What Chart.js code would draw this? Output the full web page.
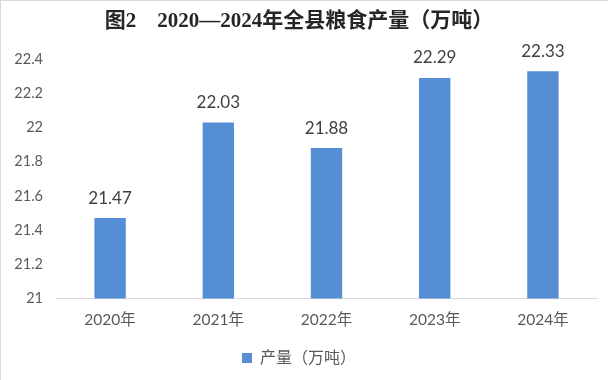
<!DOCTYPE html>
<html>
<head>
<meta charset="utf-8">
<script src="https://cdn.jsdelivr.net/npm/chart.js@4/dist/chart.umd.min.js"></script>
<style>
html,body{margin:0;padding:0;background:#fff;}
#wrap{position:relative;width:608px;height:380px;box-sizing:border-box;border-left:1px solid #d9d9d9;border-top:1px solid #d9d9d9;}
canvas{display:block;}
</style>
</head>
<body>
<div id="wrap"><canvas id="c" width="607" height="379"></canvas></div>
<script>
const categories = ["2020年","2021年","2022年","2023年","2024年"];
const production = [21.47, 22.03, 21.88, 22.29, 22.33];
const seriesName = "产量（万吨）";
const titleText = "图2　2020—2024年全县粮食产量（万吨）";
const yMin = 21, yMax = 22.4, yStep = 0.2;

const labelFont = "'Lato','Noto Sans CJK SC',sans-serif";

const dataLabels = {
  id: 'dataLabels',
  afterDatasetsDraw(chart) {
    const ctx = chart.ctx;
    const meta = chart.getDatasetMeta(0);
    ctx.save();
    ctx.font = "17px " + labelFont;
    ctx.fillStyle = "#404040";
    ctx.textAlign = "center";
    ctx.textBaseline = "middle";
    meta.data.forEach((bar, i) => {
      ctx.fillText(production[i].toFixed(2), bar.x, bar.y - 20);
    });
    ctx.restore();
  }
};

new Chart(document.getElementById('c'), {
  type: 'bar',
  data: {
    labels: categories,
    datasets: [{
      label: seriesName,
      data: production,
      backgroundColor: '#558ed5',
      borderWidth: 0,
      barPercentage: 0.29,
      categoryPercentage: 1.0
    }]
  },
  options: {
    responsive: false,
    animation: false,
    devicePixelRatio: 1,
    layout: { padding: { left: 0, right: 11, top: 0, bottom: 4 } },
    plugins: {
      title: {
        display: true,
        text: titleText,
        color: '#262626',
        font: { family: "'Liberation Serif','Noto Sans CJK SC',serif", size: 21, weight: 'bold', lineHeight: 1.2 },
        padding: { top: 8, bottom: 25 }
      },
      legend: {
        display: true,
        position: 'bottom',
        labels: {
          color: '#595959',
          font: { family: labelFont, size: 16 },
          boxWidth: 10,
          boxHeight: 10,
          padding: 9
        }
      },
      tooltip: { enabled: false }
    },
    scales: {
      x: {
        grid: { display: false, drawTicks: false },
        border: { display: true, color: '#d9d9d9', width: 1 },
        ticks: { color: '#595959', font: { family: labelFont, size: 15.5 }, padding: 12 }
      },
      y: {
        min: yMin,
        max: yMax,
        grid: { display: false, drawTicks: false },
        border: { display: false },
        ticks: {
          stepSize: yStep,
          color: '#595959',
          font: { family: labelFont, size: 14.5 },
          padding: 13,
          callback: v => String(Math.round(v * 10) / 10)
        },
        afterFit(scale) { scale.width = 55; }
      }
    }
  },
  plugins: [dataLabels]
});
</script>
</body>
</html>
